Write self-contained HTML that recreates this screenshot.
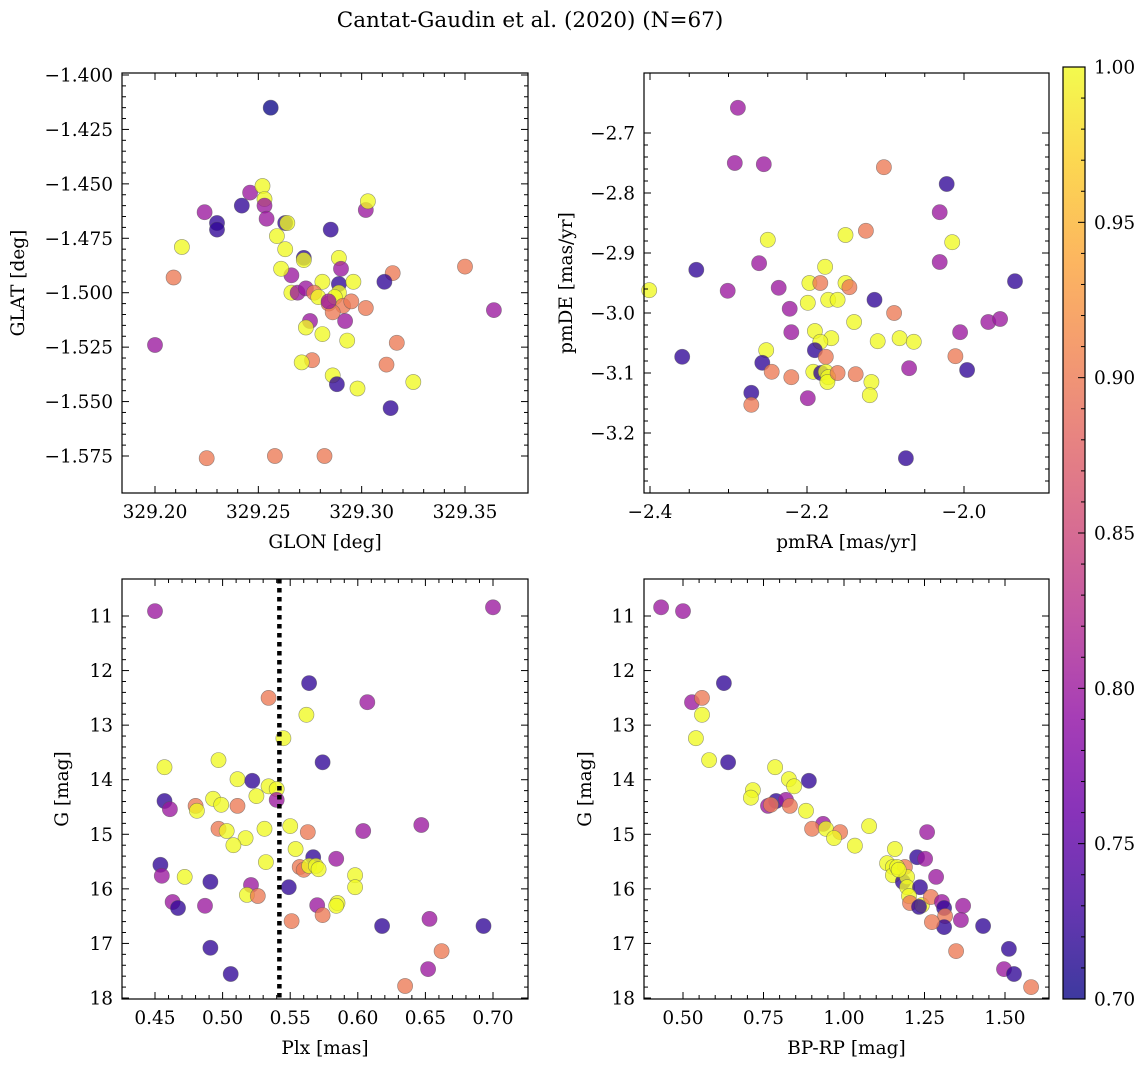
<!DOCTYPE html>
<html><head><meta charset="utf-8"><style>
body{margin:0;background:#fff;}
svg{display:block;font-family:"DejaVu Serif","Liberation Serif",serif;}
</style></head><body>
<svg id="fig" width="1148" height="1067" viewBox="0 0 1148 1067" xmlns="http://www.w3.org/2000/svg">
<defs>
<linearGradient id="plasma" x1="0" y1="1" x2="0" y2="0">
<stop offset="0" stop-color="#0d0887"/><stop offset="0.1" stop-color="#41049d"/><stop offset="0.2" stop-color="#6a00a8"/><stop offset="0.3" stop-color="#8f0da4"/><stop offset="0.4" stop-color="#b12a90"/><stop offset="0.5" stop-color="#cc4778"/><stop offset="0.6" stop-color="#e16462"/><stop offset="0.7" stop-color="#f2844b"/><stop offset="0.8" stop-color="#fca636"/><stop offset="0.9" stop-color="#fcce25"/><stop offset="1" stop-color="#f0f921"/>
</linearGradient>
</defs>
<text x="530" y="27" font-size="21.5" text-anchor="middle">Cantat-Gaudin et al. (2020) (N=67)</text>
</svg>
<script>
// ---- Panel 1: GLON / GLAT ----
const glon=[329.256,329.246,329.252,329.242,329.224,329.230,329.230,329.253,329.253,329.254,329.263,329.264,329.285,329.302,329.303,329.213,329.259,329.263,329.272,329.272,329.209,329.266,329.261,329.289,329.290,329.281,329.289,329.289,329.266,329.269,329.273,329.277,329.279,329.284,329.287,329.291,329.295,329.296,329.302,329.315,329.311,329.292,329.286,329.275,329.273,329.350,329.364,329.200,329.276,329.271,329.293,329.317,329.312,329.286,329.288,329.298,329.325,329.314,329.225,329.258,329.282,329.281,329.284];
const glat=[-1.415,-1.454,-1.451,-1.460,-1.463,-1.468,-1.471,-1.457,-1.460,-1.466,-1.468,-1.468,-1.471,-1.462,-1.458,-1.479,-1.474,-1.480,-1.484,-1.485,-1.493,-1.492,-1.489,-1.484,-1.489,-1.495,-1.496,-1.500,-1.500,-1.500,-1.498,-1.500,-1.502,-1.505,-1.502,-1.506,-1.504,-1.495,-1.507,-1.491,-1.495,-1.513,-1.509,-1.513,-1.516,-1.488,-1.508,-1.524,-1.531,-1.532,-1.522,-1.523,-1.533,-1.538,-1.542,-1.544,-1.541,-1.553,-1.576,-1.575,-1.575,-1.519,-1.504];
const prob1=[0.70,0.80,1.0,0.72,0.80,0.72,0.72,1.0,0.80,0.80,0.72,1.0,0.72,0.80,1.0,1.0,1.0,1.0,0.72,1.0,0.90,0.80,1.0,1.0,0.80,1.0,0.72,1.0,1.0,0.80,0.80,0.90,1.0,0.90,1.0,0.90,0.90,1.0,0.90,0.90,0.72,0.80,0.90,0.80,1.0,0.90,0.80,0.80,0.90,1.0,1.0,0.90,0.90,1.0,0.72,1.0,1.0,0.72,0.90,0.90,0.90,1.0,0.80];
// ---- Panel 2: pmRA / pmDE ----
const pmra=[-2.288,-2.292,-2.255,-2.102,-2.022,-2.031,-2.250,-2.015,-2.125,-2.151,-2.341,-2.261,-2.031,-2.401,-2.301,-2.236,-2.177,-2.197,-2.183,-2.151,-2.146,-1.935,-2.199,-2.222,-2.173,-2.161,-2.114,-2.089,-2.140,-2.220,-2.190,-2.169,-2.082,-2.064,-2.110,-2.005,-1.969,-1.954,-2.183,-2.190,-2.252,-2.176,-2.359,-2.257,-2.011,-2.245,-2.220,-2.192,-2.182,-2.176,-2.173,-2.174,-2.161,-2.138,-2.118,-2.120,-2.070,-1.996,-2.271,-2.271,-2.199,-2.074];
const pmde=[-2.658,-2.750,-2.752,-2.757,-2.785,-2.832,-2.878,-2.882,-2.863,-2.870,-2.928,-2.917,-2.915,-2.962,-2.963,-2.958,-2.923,-2.950,-2.950,-2.950,-2.957,-2.947,-2.983,-2.993,-2.978,-2.978,-2.978,-3.000,-3.015,-3.032,-3.030,-3.042,-3.042,-3.048,-3.047,-3.032,-3.015,-3.010,-3.048,-3.062,-3.062,-3.073,-3.073,-3.083,-3.072,-3.098,-3.107,-3.098,-3.100,-3.098,-3.107,-3.115,-3.100,-3.102,-3.115,-3.137,-3.092,-3.095,-3.133,-3.153,-3.142,-3.242];
const prob2=[0.80,0.80,0.80,0.90,0.72,0.80,1.0,1.0,0.90,1.0,0.72,0.80,0.80,1.0,0.80,0.80,1.0,1.0,0.90,1.0,0.90,0.72,1.0,0.80,1.0,1.0,0.72,0.90,1.0,0.80,1.0,1.0,1.0,1.0,1.0,0.80,0.80,0.80,1.0,0.72,1.0,0.90,0.72,0.72,0.90,0.90,0.90,1.0,0.72,1.0,1.0,1.0,0.90,0.90,1.0,1.0,0.80,0.72,0.72,0.90,0.80,0.72];
// ---- Panel 3: Plx / G ----
const plx=[0.450,0.700,0.534,0.564,0.607,0.562,0.545,0.574,0.497,0.457,0.511,0.522,0.534,0.540,0.457,0.461,0.480,0.481,0.493,0.499,0.511,0.525,0.540,0.497,0.503,0.531,0.550,0.563,0.604,0.647,0.517,0.508,0.554,0.584,0.567,0.532,0.454,0.557,0.560,0.564,0.569,0.571,0.455,0.472,0.598,0.491,0.598,0.549,0.521,0.518,0.526,0.463,0.467,0.487,0.570,0.585,0.584,0.574,0.551,0.653,0.618,0.693,0.662,0.491,0.652,0.506,0.635];
const gmag3=[10.91,10.84,12.50,12.23,12.58,12.81,13.24,13.68,13.64,13.77,13.99,14.02,14.12,14.17,14.39,14.54,14.48,14.57,14.35,14.46,14.48,14.30,14.37,14.90,14.94,14.90,14.85,14.96,14.94,14.83,15.07,15.20,15.27,15.45,15.42,15.51,15.56,15.60,15.65,15.58,15.58,15.64,15.76,15.78,15.75,15.87,15.97,15.97,15.93,16.11,16.13,16.24,16.35,16.31,16.30,16.26,16.31,16.48,16.59,16.55,16.68,16.68,17.14,17.08,17.47,17.56,17.78];
const prob3=[0.80,0.80,0.90,0.72,0.80,1.0,1.0,0.72,1.0,1.0,1.0,0.72,1.0,1.0,0.72,0.80,0.90,1.0,1.0,1.0,0.90,1.0,0.80,0.90,1.0,1.0,1.0,0.90,0.80,0.80,1.0,1.0,1.0,0.80,0.72,1.0,0.72,0.90,0.90,1.0,1.0,1.0,0.80,1.0,1.0,0.72,1.0,0.72,0.80,1.0,0.90,0.80,0.72,0.80,0.80,1.0,1.0,0.90,0.90,0.80,0.72,0.72,0.90,0.72,0.80,0.72,0.90];
const plxLine=0.542;
// ---- Panel 4: BP-RP / G ----
const bprp=[0.432,0.500,0.627,0.528,0.559,0.559,0.540,0.581,0.640,0.786,0.829,0.891,0.845,0.717,0.789,0.711,0.764,0.773,0.820,0.832,0.882,0.935,0.901,0.944,0.988,0.969,1.078,1.034,1.258,1.158,1.134,1.152,1.189,1.152,1.183,1.227,1.252,1.286,1.196,1.196,1.236,1.202,1.205,1.242,1.233,1.270,1.304,1.311,1.314,1.311,1.273,1.370,1.363,1.432,1.348,1.512,1.497,1.528,1.581,1.165,1.170];
const gmag4=[10.84,10.91,12.23,12.58,12.50,12.81,13.24,13.64,13.68,13.77,13.99,14.02,14.12,14.19,14.39,14.33,14.48,14.46,14.37,14.48,14.57,14.81,14.90,14.90,14.96,15.07,14.85,15.21,14.96,15.27,15.53,15.60,15.60,15.75,15.87,15.42,15.45,15.78,15.78,15.97,15.97,16.13,16.26,16.30,16.33,16.15,16.24,16.35,16.50,16.70,16.61,16.31,16.57,16.68,17.14,17.10,17.47,17.56,17.80,15.60,15.65];
const prob4=[0.80,0.80,0.72,0.80,0.90,1.0,1.0,1.0,0.72,1.0,1.0,0.72,1.0,1.0,0.72,1.0,0.80,0.90,0.80,0.90,1.0,0.80,0.90,1.0,0.90,1.0,1.0,1.0,0.80,1.0,1.0,1.0,0.90,1.0,0.72,0.72,0.80,0.80,1.0,1.0,0.72,1.0,0.90,1.0,0.72,0.90,0.80,0.72,0.90,0.72,0.90,0.80,0.80,0.72,0.90,0.72,0.80,0.72,0.90,1.0,1.0];
// ---- Colorbar ----
const cbTicks=[0.70,0.75,0.80,0.85,0.90,0.95,1.00];

const NS="http://www.w3.org/2000/svg";
const svg=document.getElementById('fig');
const FS=18.5;
function mk(tag,attrs,parent){const e=document.createElementNS(NS,tag);for(const k in attrs)e.setAttribute(k,attrs[k]);(parent||svg).appendChild(e);return e;}
const stops=[[0,[13,8,135]],[0.1,[65,4,157]],[0.2,[106,0,168]],[0.3,[143,13,164]],[0.4,[177,42,144]],[0.5,[204,71,120]],[0.6,[225,100,98]],[0.7,[242,132,75]],[0.8,[252,166,54]],[0.9,[252,206,37]],[1,[240,249,33]]];
function plasma(v){let t=(v-0.7)/0.3;t=Math.max(0,Math.min(1,t));for(let i=1;i<stops.length;i++){if(t<=stops[i][0]){const a=stops[i-1],b=stops[i];const f=(t-a[0])/(b[0]-a[0]);const c=a[1].map((x,j)=>Math.round(x+(b[1][j]-x)*f));return `rgb(${c[0]},${c[1]},${c[2]})`;}}return 'rgb(240,249,33)';}
function fmt(v,d){const s=Math.abs(v).toFixed(d);return (v<-1e-9?'\u2212':'')+s;}

function panel(o){
  const g=mk('g',{});  
  const X=v=>o.px0+(v-o.x0)/(o.x1-o.x0)*(o.px1-o.px0);
  const Y=v=>o.py0+(v-o.y0)/(o.y1-o.y0)*(o.py1-o.py0);
  const pg=mk('g',{},g);  
  for(let i=0;i<o.xs.length;i++){
    const c=mk('circle',{cx:X(o.xs[i]).toFixed(1),cy:Y(o.ys[i]).toFixed(1),r:7.6,fill:plasma(o.ps[i]),'fill-opacity':0.78,stroke:'#555','stroke-opacity':0.6,'stroke-width':0.6},pg);
    
    
  }
  const L=o.L,R=o.R,T=o.T,B=o.B;
  if(o.vline!==undefined){
    const l=mk('line',{x1:X(o.vline),x2:X(o.vline),y1:T,y2:B,stroke:'#000','stroke-width':4.5,'stroke-dasharray':'4.5,4.5'},g);
    
    
  }
  const fr=mk('rect',{x:L,y:T,width:R-L,height:B-T,fill:'none',stroke:'#000','stroke-width':1.2},g);
  
  
  const tk=mk('g',{stroke:'#000','stroke-width':1},g);
  const xlo=Math.min(o.x0,o.x1),xhi=Math.max(o.x0,o.x1);
  for(let v=Math.ceil(xlo/o.xmin-1e-6)*o.xmin;v<=xhi+1e-9;v+=o.xmin){
    const px=X(v); if(px<L||px>R) continue;
    const isMaj=Math.abs(v/o.xmaj-Math.round(v/o.xmaj))<1e-4;
    const len=isMaj?7:4;
    mk('line',{x1:px,x2:px,y1:B,y2:B-len},tk);mk('line',{x1:px,x2:px,y1:T,y2:T+len},tk);
    if(isMaj){const t=mk('text',{x:px,y:B+25,'font-size':FS,'text-anchor':'middle',stroke:'none',fill:'#000'},g);t.textContent=fmt(v,o.xd);}
  }
  const ylo=Math.min(o.y0,o.y1),yhi=Math.max(o.y0,o.y1);
  for(let v=Math.ceil(ylo/o.ymin-1e-6)*o.ymin;v<=yhi+1e-9;v+=o.ymin){
    const py=Y(v); if(py<T||py>B) continue;
    const isMaj=Math.abs(v/o.ymaj-Math.round(v/o.ymaj))<1e-4;
    const len=isMaj?7:4;
    mk('line',{x1:L,x2:L+len,y1:py,y2:py},tk);mk('line',{x1:R,x2:R-len,y1:py,y2:py},tk);
    if(isMaj){const t=mk('text',{x:L-9,y:py+6.5,'font-size':FS,'text-anchor':'end',stroke:'none',fill:'#000'},g);t.textContent=fmt(v,o.yd);}
  }
  const xl=mk('text',{x:(L+R)/2,y:B+55,'font-size':FS,'text-anchor':'middle'},g);xl.textContent=o.xlabel;
  
  
  const yl=mk('text',{x:o.ylx,y:(T+B)/2,'font-size':FS,'text-anchor':'middle',transform:`rotate(-90 ${o.ylx} ${(T+B)/2})`},g);yl.textContent=o.ylabel;
  
  
}
panel({name:'panel-glon-glat',xs:glon,ys:glat,ps:prob1,L:122,R:528,T:73,B:493,x0:329.20,x1:329.35,px0:155,px1:465,y0:-1.400,y1:-1.575,py0:75,py1:456,xmaj:0.05,xmin:0.01,xd:2,ymaj:0.025,ymin:0.005,yd:3,xlabel:'GLON [deg]',ylabel:'GLAT [deg]',ylx:24});
panel({name:'panel-pm',xs:pmra,ys:pmde,ps:prob2,L:644,R:1049,T:73,B:493,x0:-2.4,x1:-2.0,px0:650,px1:964,y0:-2.7,y1:-3.3,py0:133,py1:493,xmaj:0.2,xmin:0.05,xd:1,ymaj:0.1,ymin:0.02,yd:1,xlabel:'pmRA [mas/yr]',ylabel:'pmDE [mas/yr]',ylx:572});
panel({name:'panel-plx-g',xs:plx,ys:gmag3,ps:prob3,vline:plxLine,L:122,R:528,T:579,B:999,x0:0.45,x1:0.70,px0:155,px1:493,y0:11,y1:18,py0:616,py1:998,xmaj:0.05,xmin:0.01,xd:2,ymaj:1,ymin:0.2,yd:0,xlabel:'Plx [mas]',ylabel:'G [mag]',ylx:68});
panel({name:'panel-cmd',xs:bprp,ys:gmag4,ps:prob4,L:644,R:1049,T:579,B:999,x0:0.5,x1:1.5,px0:683,px1:1005,y0:11,y1:18,py0:616,py1:998,xmaj:0.25,xmin:0.05,xd:2,ymaj:1,ymin:0.2,yd:0,xlabel:'BP-RP [mag]',ylabel:'G [mag]',ylx:591});
(function(){
  const g=mk('g',{});
  const cT=67,cB=999,cL=1063,cR=1085;
  mk('rect',{x:cL,y:cT,width:cR-cL,height:cB-cT,fill:'url(#plasma)','fill-opacity':0.8},g);
  mk('rect',{x:cL,y:cT,width:cR-cL,height:cB-cT,fill:'none',stroke:'#000','stroke-width':1.2},g);
  const Yc=v=>cB+(v-0.7)/0.3*(cT-cB);
  for(let k=0;k<=30;k++){const v=0.7+k*0.01;const py=Yc(v);const maj=k%5===0;
    mk('line',{x1:cR,x2:cR-(maj?7:4),y1:py,y2:py,stroke:'#000','stroke-width':1},g);}
  cbTicks.forEach(v=>{const t=mk('text',{x:cR+9,y:Yc(v)+6.5,'font-size':FS},g);t.textContent=v.toFixed(2);
    
    });
})();
</script>
</body></html>
